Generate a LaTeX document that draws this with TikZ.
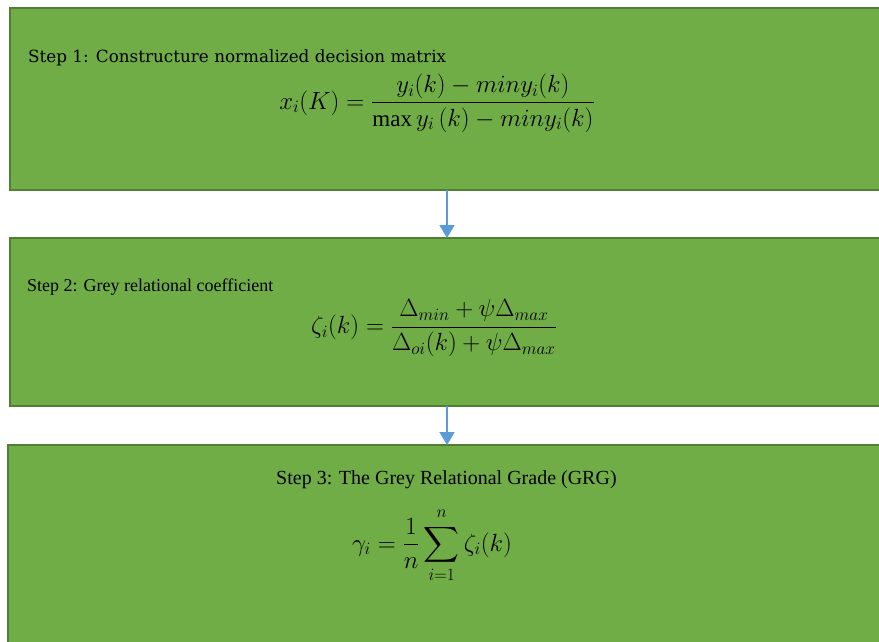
\documentclass[tikz,border=0pt]{standalone}
\usepackage{amsmath}
\usepackage{fontspec}
\setmainfont{Liberation Serif}
\newfontfamily\stepfont{DejaVu Serif}
\usetikzlibrary{arrows.meta}
\definecolor{boxgreen}{HTML}{70AD47}
\definecolor{boxedge}{HTML}{507E32}
\definecolor{arrowblue}{HTML}{5B9BD5}
\begin{document}
\begin{tikzpicture}[x=1pt,y=-1pt,
  stepbox/.style={draw=boxedge, line width=1.5pt, fill=boxgreen, inner sep=0pt, outer sep=0pt},
  flow/.style={draw=arrowblue, line width=1.8pt, -{Triangle[width=15pt,length=13pt]}},
  steplabel/.style={anchor=west, inner sep=0pt, text=black},
  formula/.style={inner sep=0pt, text=black}]
\useasboundingbox (0,0) rectangle (879,642);
\clip (0,0) rectangle (879,642);
\node[stepbox, minimum width=874pt, minimum height=182pt] (b1) at (447,99) {};
\node[stepbox, minimum width=874pt, minimum height=168pt] (b2) at (447,322) {};
\node[stepbox, minimum width=876pt, minimum height=210pt] (b3) at (446,550) {};
\node[steplabel, font=\fontsize{16.8}{20}\selectfont\stepfont] (t1) at (28,58) {Step 1: Constructure normalized decision matrix};
\node[formula, font=\fontsize{23}{27}\selectfont] (f1) at (437,103)
  {$x_i(K)=\dfrac{y_i(k)-min y_i(k)}{\max y_i\,(k)-min y_i(k)}$};
\node[steplabel, font=\fontsize{18}{21}\selectfont] (t2) at (27,287) {Step 2: Grey relational coefficient};
\node[formula, font=\fontsize{23.5}{28}\selectfont] (f2) at (434,328)
  {$\zeta_i(k)=\dfrac{\Delta_{min}+\psi\Delta_{max}}{\Delta_{oi}(k)+\psi\Delta_{max}}$};
\node[steplabel, font=\fontsize{20}{24}\selectfont] (t3) at (276,480) {Step 3: The Grey Relational Grade (GRG)};
\node[formula, font=\fontsize{25}{30}\selectfont] (f3) at (432,545)
  {$\gamma_i=\dfrac{1}{n}\displaystyle\sum_{i=1}^{\raisebox{3pt}{$\scriptstyle n$}}\zeta_i(k)$};
\draw[flow] (b1.south) -- (b2.north);
\draw[flow] (b2.south) -- (b3.north -| b2.south);
\end{tikzpicture}
\end{document}
